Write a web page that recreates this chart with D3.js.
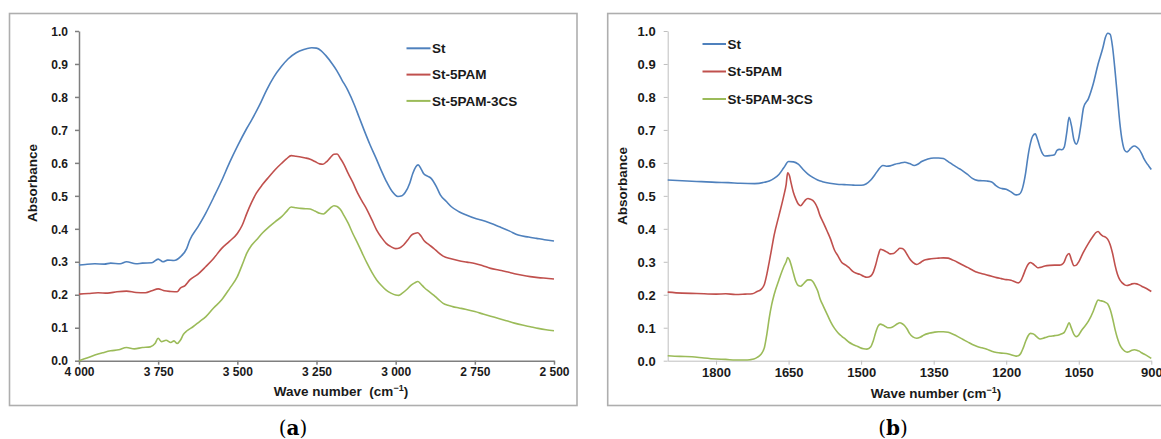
<!DOCTYPE html>
<html><head><meta charset="utf-8">
<script src="https://cdn.jsdelivr.net/npm/d3@7"></script>
<style>
html,body{margin:0;padding:0;background:#fff;}
svg{display:block;font-family:"Liberation Sans",Arial,sans-serif;}
</style></head>
<body>
<svg id="chart" width="1161" height="439"></svg>
<script>
// ---------- DATA ----------
const seriesNames = ["St", "St-5PAM", "St-5PAM-3CS"];
const seriesColors = ["#4f81bd", "#c0504d", "#9bbb59"];
const yTicks = [0,0.1,0.2,0.3,0.4,0.5,0.6,0.7,0.8,0.9,1.0];
const aTicks = [4000,3750,3500,3250,3000,2750,2500];
const bTicks = [1800,1650,1500,1350,1200,1050,900];

// Panel (a) 4000-2500 cm-1
const aStWave = [4000,3980,3950,3920,3900,3870,3850,3820,3800,3770,3750,3735,3720,3700,3680,3660,3650,3625,3600,3575,3550,3525,3500,3470,3455,3430,3408,3385,3361,3340,3314,3290,3279,3265,3250,3235,3221,3200,3186,3170,3151,3130,3116,3100,3081,3060,3046,3030,3011,2993,2980,2970,2955,2946,2929,2920,2912,2900,2888,2870,2859,2840,2824,2800,2777,2750,2730,2700,2672,2640,2613,2580,2555,2530,2500];
const aStAbs  = [0.290,0.292,0.294,0.293,0.296,0.294,0.300,0.294,0.296,0.297,0.308,0.300,0.305,0.304,0.315,0.340,0.366,0.405,0.447,0.495,0.545,0.600,0.650,0.705,0.730,0.775,0.820,0.860,0.892,0.915,0.934,0.944,0.947,0.949,0.948,0.940,0.926,0.900,0.880,0.852,0.820,0.775,0.740,0.700,0.655,0.610,0.578,0.545,0.513,0.498,0.500,0.510,0.540,0.568,0.594,0.582,0.568,0.560,0.553,0.525,0.503,0.483,0.467,0.452,0.442,0.432,0.427,0.417,0.406,0.393,0.381,0.375,0.371,0.367,0.363];

const aPamWave = [4000,3970,3940,3910,3880,3850,3820,3790,3770,3750,3730,3710,3690,3680,3665,3650,3625,3600,3575,3550,3525,3500,3485,3470,3455,3440,3420,3400,3380,3360,3345,3330,3315,3300,3285,3270,3255,3240,3230,3220,3207,3195,3185,3175,3163,3150,3135,3120,3105,3090,3075,3060,3045,3030,3015,3000,2988,2975,2962,2950,2940,2930,2920,2910,2895,2880,2865,2850,2825,2800,2775,2750,2725,2700,2675,2650,2625,2600,2575,2550,2525,2500];
const aPamAbs  = [0.202,0.204,0.206,0.205,0.209,0.211,0.207,0.206,0.212,0.218,0.212,0.210,0.209,0.220,0.228,0.245,0.262,0.285,0.310,0.340,0.362,0.386,0.410,0.447,0.480,0.508,0.535,0.558,0.580,0.599,0.612,0.622,0.620,0.618,0.615,0.611,0.604,0.597,0.596,0.602,0.615,0.626,0.627,0.614,0.595,0.568,0.540,0.508,0.482,0.457,0.427,0.396,0.374,0.356,0.346,0.340,0.342,0.351,0.366,0.381,0.386,0.388,0.378,0.364,0.352,0.341,0.328,0.317,0.309,0.303,0.299,0.295,0.288,0.280,0.275,0.270,0.264,0.259,0.255,0.252,0.250,0.248];

const aCsWave = [4000,3975,3950,3925,3900,3875,3850,3825,3800,3775,3760,3750,3740,3725,3710,3700,3690,3680,3670,3660,3640,3620,3600,3575,3550,3525,3500,3485,3470,3455,3440,3420,3400,3380,3360,3345,3330,3315,3300,3285,3270,3255,3240,3228,3215,3205,3195,3185,3175,3163,3150,3135,3120,3105,3090,3075,3060,3045,3030,3015,3000,2990,2980,2965,2950,2940,2930,2920,2910,2895,2880,2865,2850,2835,2820,2800,2780,2750,2725,2700,2675,2650,2625,2600,2575,2550,2525,2500];
const aCsAbs  = [0.000,0.008,0.017,0.024,0.030,0.033,0.040,0.036,0.040,0.042,0.052,0.068,0.058,0.062,0.055,0.060,0.052,0.062,0.080,0.090,0.103,0.118,0.133,0.160,0.184,0.218,0.255,0.290,0.326,0.350,0.366,0.388,0.406,0.422,0.437,0.452,0.466,0.464,0.462,0.461,0.460,0.454,0.447,0.445,0.455,0.464,0.470,0.468,0.459,0.440,0.417,0.385,0.356,0.325,0.295,0.268,0.245,0.228,0.214,0.205,0.199,0.198,0.204,0.216,0.230,0.236,0.240,0.232,0.222,0.210,0.199,0.186,0.174,0.168,0.164,0.160,0.156,0.149,0.142,0.135,0.128,0.121,0.114,0.108,0.103,0.098,0.094,0.091];

// Panel (b) 1900-900 cm-1
const bStWave = [1900,1860,1830,1800,1775,1750,1720,1700,1690,1680,1670,1660,1650,1640,1630,1620,1610,1600,1590,1580,1565,1550,1535,1520,1510,1500,1490,1480,1472,1465,1455,1448,1440,1430,1420,1410,1400,1390,1383,1375,1362,1350,1340,1330,1320,1310,1300,1290,1280,1270,1260,1250,1240,1230,1222,1215,1208,1200,1190,1180,1173,1166,1160,1155,1150,1145,1140,1135,1130,1125,1120,1110,1100,1095,1090,1085,1080,1075,1070,1065,1060,1055,1050,1045,1040,1030,1020,1010,1000,995,990,985,980,975,970,965,960,955,950,945,940,935,930,925,920,915,910,905,900];
const bStAbs  = [0.548,0.545,0.543,0.541,0.540,0.538,0.537,0.541,0.545,0.553,0.565,0.585,0.604,0.603,0.596,0.580,0.566,0.556,0.548,0.543,0.538,0.535,0.534,0.533,0.532,0.532,0.536,0.548,0.563,0.578,0.592,0.590,0.591,0.596,0.599,0.602,0.598,0.592,0.596,0.604,0.612,0.615,0.615,0.613,0.604,0.594,0.585,0.576,0.565,0.553,0.547,0.546,0.545,0.542,0.532,0.525,0.522,0.520,0.512,0.503,0.505,0.525,0.568,0.620,0.659,0.682,0.688,0.670,0.646,0.628,0.621,0.622,0.625,0.638,0.641,0.640,0.648,0.690,0.738,0.712,0.670,0.657,0.675,0.720,0.768,0.795,0.840,0.900,0.950,0.980,0.993,0.990,0.950,0.880,0.800,0.720,0.665,0.638,0.633,0.640,0.648,0.651,0.648,0.641,0.628,0.612,0.600,0.590,0.580];

const bPamWave = [1900,1870,1840,1800,1780,1760,1740,1725,1715,1708,1700,1695,1690,1685,1680,1670,1660,1655,1652,1648,1645,1640,1635,1630,1625,1620,1615,1610,1605,1600,1595,1590,1585,1578,1570,1563,1555,1548,1540,1532,1525,1518,1510,1503,1495,1488,1480,1475,1470,1465,1460,1455,1450,1445,1440,1433,1425,1420,1415,1410,1405,1400,1393,1385,1377,1370,1360,1350,1340,1330,1320,1310,1300,1290,1280,1270,1260,1250,1240,1230,1220,1210,1200,1190,1180,1175,1170,1165,1160,1155,1150,1145,1140,1135,1130,1120,1110,1100,1090,1085,1080,1075,1070,1065,1060,1055,1050,1045,1040,1030,1020,1015,1010,1005,1000,995,990,985,980,975,970,965,960,955,950,945,940,935,930,925,920,910,900];
const bPamAbs  = [0.208,0.205,0.204,0.202,0.203,0.201,0.202,0.203,0.210,0.215,0.232,0.262,0.300,0.340,0.380,0.440,0.500,0.535,0.570,0.560,0.540,0.510,0.490,0.475,0.470,0.478,0.488,0.492,0.490,0.486,0.477,0.462,0.440,0.418,0.392,0.368,0.335,0.318,0.298,0.290,0.282,0.272,0.265,0.262,0.256,0.253,0.257,0.268,0.290,0.318,0.338,0.336,0.332,0.328,0.324,0.325,0.335,0.341,0.340,0.334,0.322,0.310,0.298,0.292,0.298,0.305,0.308,0.310,0.311,0.312,0.311,0.305,0.298,0.290,0.283,0.275,0.268,0.264,0.260,0.256,0.252,0.249,0.246,0.244,0.238,0.236,0.242,0.258,0.277,0.292,0.298,0.294,0.288,0.282,0.283,0.287,0.289,0.290,0.290,0.292,0.300,0.318,0.325,0.305,0.288,0.290,0.300,0.315,0.330,0.356,0.378,0.388,0.392,0.384,0.378,0.375,0.368,0.352,0.325,0.290,0.262,0.245,0.236,0.230,0.228,0.230,0.233,0.234,0.233,0.230,0.226,0.219,0.210];

const bCsWave = [1900,1875,1850,1825,1800,1780,1760,1740,1730,1722,1715,1708,1700,1695,1690,1685,1680,1670,1660,1655,1652,1648,1645,1640,1635,1630,1625,1620,1615,1610,1605,1600,1595,1590,1585,1578,1570,1563,1555,1548,1540,1532,1525,1518,1510,1503,1495,1488,1480,1475,1470,1465,1460,1455,1450,1445,1440,1433,1425,1420,1415,1410,1405,1400,1393,1385,1377,1370,1360,1350,1340,1330,1320,1310,1300,1290,1280,1270,1260,1250,1240,1230,1220,1210,1200,1190,1180,1175,1170,1165,1160,1155,1150,1145,1140,1135,1130,1120,1110,1100,1090,1085,1080,1075,1070,1065,1060,1055,1050,1045,1040,1030,1020,1015,1010,1005,1000,995,990,985,980,975,970,965,960,955,950,945,940,935,930,925,920,910,900];
const bCsAbs  = [0.015,0.013,0.012,0.008,0.005,0.004,0.002,0.002,0.003,0.005,0.010,0.018,0.040,0.080,0.130,0.170,0.200,0.245,0.285,0.300,0.313,0.305,0.292,0.265,0.240,0.228,0.226,0.232,0.240,0.245,0.245,0.240,0.228,0.212,0.188,0.165,0.140,0.118,0.098,0.085,0.074,0.065,0.056,0.050,0.045,0.040,0.036,0.035,0.042,0.060,0.085,0.105,0.111,0.108,0.104,0.100,0.100,0.104,0.112,0.115,0.112,0.106,0.096,0.083,0.072,0.068,0.072,0.078,0.083,0.086,0.088,0.088,0.086,0.080,0.073,0.065,0.057,0.049,0.043,0.039,0.035,0.029,0.025,0.023,0.022,0.018,0.014,0.015,0.022,0.038,0.058,0.075,0.083,0.082,0.077,0.070,0.066,0.070,0.074,0.076,0.079,0.082,0.086,0.100,0.115,0.098,0.080,0.073,0.078,0.090,0.100,0.120,0.150,0.170,0.184,0.182,0.180,0.177,0.172,0.155,0.128,0.095,0.068,0.048,0.036,0.029,0.026,0.028,0.032,0.033,0.032,0.029,0.024,0.016,0.007];

// ---------- DRAW ----------
const svg = d3.select("#chart");
const yTop = 31, yBot = 360.7;

function panel(opt){
  const g = svg.append("g");
  g.append("rect").attr("x",opt.frame[0]).attr("y",opt.frame[1])
    .attr("width",opt.frame[2]).attr("height",opt.frame[3])
    .attr("fill","none").attr("stroke","#aeaeae").attr("stroke-width",1.6);
  const x = d3.scaleLinear().domain(opt.domain).range(opt.xr);
  const y = d3.scaleLinear().domain([0,1]).range([yBot,yTop]);

  const xAxis = d3.axisBottom(x).tickValues(opt.ticks).tickSize(4).tickSizeOuter(0)
    .tickFormat(opt.fmt);
  const gx = g.append("g").attr("transform",`translate(0,${yBot})`).call(xAxis);
  const yAxis = d3.axisLeft(y).tickValues(yTicks).tickSize(4).tickSizeOuter(0)
    .tickFormat(d3.format(".1f"));
  const gy = g.append("g").attr("transform",`translate(${opt.xr[0]},0)`).call(yAxis);
  [gx,gy].forEach(a=>{
    a.select(".domain").attr("stroke",opt.axisColor).attr("stroke-width",opt.axisW);
    a.selectAll(".tick line").attr("stroke",opt.axisColor).attr("stroke-width",opt.axisW);
    a.selectAll("text").attr("fill","#1a1a1a").attr("font-weight","bold")
      .attr("font-size",opt.tickFont).attr("font-family","'Liberation Sans',Arial,sans-serif");
  });
  gx.selectAll("text").attr("dy",null).attr("y",opt.xLabY);
  gy.selectAll("text").attr("x",-opt.yLabGap).attr("dy","0.35em");

  const line = d3.line().x(d=>x(d[0])).y(d=>y(d[1])).curve(d3.curveMonotoneX);
  opt.series.forEach((s,i)=>{
    const pts = s[0].map((w,j)=>[w,s[1][j]]);
    g.append("path").datum(pts).attr("d",line).attr("fill","none")
      .attr("stroke",seriesColors[i]).attr("stroke-width",1.6).attr("stroke-linejoin","round");
  });

  seriesNames.forEach((n,i)=>{
    const ly = opt.leg[1] + i*opt.leg[3];
    g.append("line").attr("x1",opt.leg[0]).attr("x2",opt.leg[0]+opt.leg[2])
      .attr("y1",ly).attr("y2",ly).attr("stroke",seriesColors[i]).attr("stroke-width",2);
    g.append("text").attr("x",opt.leg[0]+opt.leg[2]+1.5).attr("y",ly).attr("dy","0.36em")
      .attr("font-size",13.5).attr("font-weight","bold").attr("fill","#1a1a1a").text(n);
  });

  const xt = g.append("text").attr("x",opt.xTitle[0]).attr("y",opt.xTitle[1])
    .attr("text-anchor","middle").attr("font-size",13.5).attr("font-weight","bold").attr("fill","#1a1a1a");
  xt.append("tspan").text(opt.xTitleText);
  xt.append("tspan").attr("font-size",9).attr("dy",-5).text("−1");
  xt.append("tspan").attr("dy",5).text(")");
  g.append("text").attr("transform",`translate(${opt.yTitle[0]},${opt.yTitle[1]}) rotate(-90)`)
    .attr("text-anchor","middle").attr("font-size",13.5).attr("font-weight","bold")
    .attr("fill","#1a1a1a").text("Absorbance");

  const c = svg.append("text").attr("x",opt.cap[0]).attr("y",opt.cap[1]).attr("text-anchor","middle")
    .attr("font-family","'DejaVu Serif','Liberation Serif',serif").attr("font-size",20).attr("fill","#000");
  c.append("tspan").text("(");
  c.append("tspan").attr("font-weight","bold").text(opt.capLetter);
  c.append("tspan").text(")");
}

panel({
  frame:[9.5,13.5,567.5,392],
  domain:[4000,2500], xr:[79,554], ticks:aTicks,
  fmt:d=>d3.format(",")(d).replace(",", " "),
  axisColor:"#7f7f7f", axisW:1.5, tickFont:12, xLabY:15, yLabGap:11,
  series:[[aStWave,aStAbs],[aPamWave,aPamAbs],[aCsWave,aCsAbs]],
  leg:[406.5,48.3,24,26.3],
  xTitle:[341,396], xTitleText:"Wave number\u00a0\u00a0(cm",
  yTitle:[37,183],
  cap:[293,435], capLetter:"a"
});
panel({
  frame:[607.7,13.5,560,392],
  domain:[1900,900], xr:[667.7,1151.3], ticks:bTicks,
  fmt:d=>String(d),
  axisColor:"#bfbfbf", axisW:1, tickFont:13, xLabY:16, yLabGap:12,
  series:[[bStWave,bStAbs],[bPamWave,bPamAbs],[bCsWave,bCsAbs]],
  leg:[702.5,44,23.5,27.5],
  xTitle:[936,398], xTitleText:"Wave number (cm",
  yTitle:[627,186],
  cap:[893,435], capLetter:"b"
});
</script>
</body></html>
